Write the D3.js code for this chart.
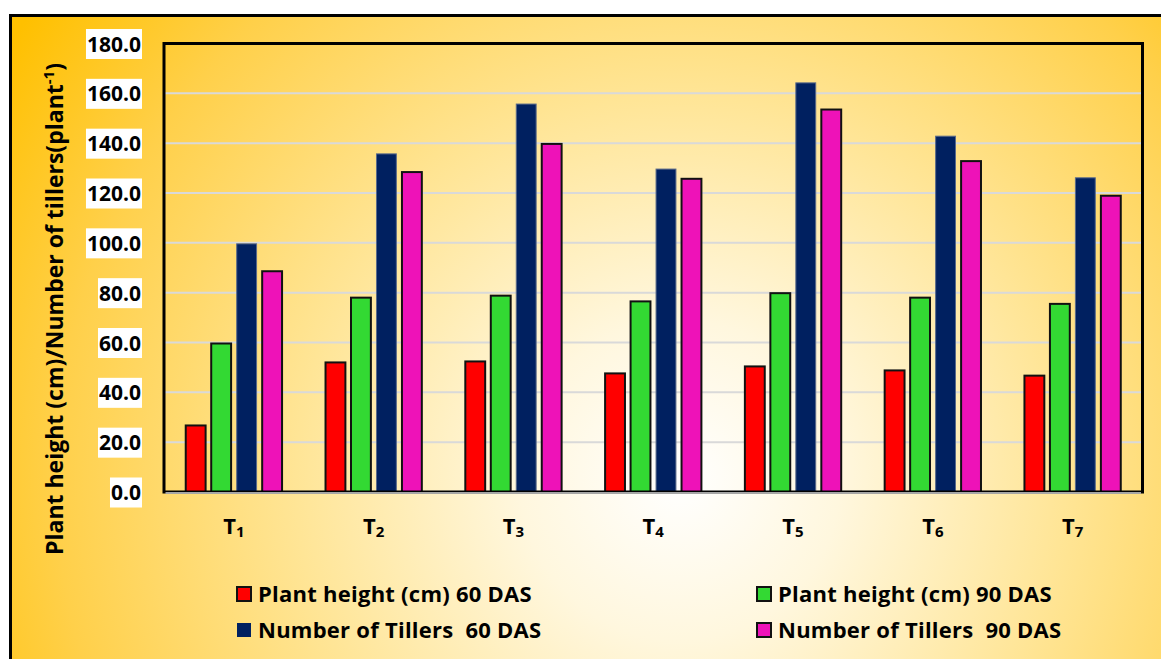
<!DOCTYPE html>
<html>
<head>
<meta charset="utf-8">
<script src="https://cdn.jsdelivr.net/npm/d3@7"></script>
<style>
html,body{margin:0;padding:0;background:#fff;}
svg{display:block;font-family:"Open Sans",Lato,sans-serif;font-weight:bold;}
</style>
</head>
<body>
<svg id="chart" width="1161" height="659"></svg>
<script>
const categories = ["1","2","3","4","5","6","7"]; // T subscripts
const seriesNames = ["Plant height (cm) 60 DAS","Plant height (cm) 90 DAS","Number of Tillers  60 DAS","Number of Tillers  90 DAS"];
const height60 = [26.7, 52.0, 52.4, 47.6, 50.4, 48.8, 46.7];
const height90 = [59.6, 78.0, 78.8, 76.5, 79.8, 78.0, 75.5];
const tillers60 = [99.6, 135.7, 155.7, 129.6, 164.2, 142.8, 126.1];
const tillers90 = [88.6, 128.4, 139.7, 125.7, 153.5, 132.8, 118.9];
const yTicks = [0,20,40,60,80,100,120,140,160,180];
const colors = ["#FF0000","#33D933","#002060","#EE12B8"];
const strokes = ["#111","#111","#5a6a8a","#111"];

const seriesValues = [height60, height90, tillers60, tillers90];

const svg = d3.select("#chart");
const defs = svg.append("defs");
const grad = defs.append("radialGradient").attr("id","bg")
  .attr("gradientUnits","userSpaceOnUse").attr("cx",680).attr("cy",480).attr("r",800);
[[0,"#FFFFFF"],[0.2,"#FFF7DE"],[0.48,"#FFE596"],[0.78,"#FFD04A"],[1,"#FFC000"]]
  .forEach(([o,c])=>grad.append("stop").attr("offset",o).attr("stop-color",c));

// outer frame
svg.append("rect").attr("x",10.5).attr("y",15.5).attr("width",1200).attr("height",700)
  .attr("fill","url(#bg)").attr("stroke","#000").attr("stroke-width",3);

const L=164, R=1142.5, T=43.5, B=492;
const x0 = d3.scaleBand().domain(categories).range([L,R]).paddingInner(0.311).paddingOuter(0.1555);
const x1 = d3.scaleBand().domain(d3.range(4)).range([0,x0.bandwidth()]).paddingInner(0.22).paddingOuter(0);
const y = d3.scaleLinear().domain([0,180]).range([B,T]);

// grid
svg.append("g").selectAll("line").data(yTicks.filter(d=>d>0)).join("line")
  .attr("x1",L).attr("x2",R).attr("y1",d=>y(d)).attr("y2",d=>y(d))
  .attr("stroke","#D9D9D9").attr("stroke-width",2);

// bars
const groups = svg.append("g").selectAll("g").data(categories).join("g")
  .attr("transform",d=>`translate(${x0(d)},0)`);
groups.selectAll("rect").data((d,i)=>seriesValues.map((s,j)=>({j,v:s[i]}))).join("rect")
  .attr("x",d=>x1(d.j)).attr("width",x1.bandwidth())
  .attr("y",d=>y(d.v)).attr("height",d=>B-y(d.v))
  .attr("fill",d=>colors[d.j]).attr("stroke",d=>strokes[d.j])
  .attr("stroke-width",d=>d.j===2?1:2);

// plot border
svg.append("rect").attr("x",L).attr("y",T).attr("width",R-L).attr("height",B-T)
  .attr("fill","none").attr("stroke","#000").attr("stroke-width",3);
// x axis line
svg.append("line").attr("x1",L+1.5).attr("x2",R-1.5).attr("y1",B+1).attr("y2",B+1)
  .attr("stroke","#A6A6A6").attr("stroke-width",2);

// y tick labels with white boxes
const yAxis = d3.axisLeft(y).tickValues(yTicks).tickFormat(d3.format(".1f")).tickSize(0).tickPadding(23);
const ga = svg.append("g").attr("transform",`translate(${L},0)`).call(yAxis);
ga.select(".domain").remove();
ga.selectAll("text").attr("font-size",21).attr("font-family","'Open Sans'").attr("font-weight","bold").attr("fill","#000").attr("dy","0.36em");
ga.selectAll(".tick").each(function(){
  const t = d3.select(this).select("text");
  const bb = t.node().getBBox();
  d3.select(this).insert("rect","text").attr("x",bb.x-1).attr("y",-15).attr("width",bb.width+2).attr("height",30).attr("fill","#fff");
});

// x labels
const xl = svg.append("g").selectAll("text").data(categories).join("text")
  .attr("x",d=>x0(d)+x0.bandwidth()/2).attr("y",534).attr("text-anchor","middle")
  .attr("font-size",22).attr("fill","#000");
xl.append("tspan").text("T");
xl.append("tspan").attr("font-size",15).attr("dy",3).text(d=>d);

// y title
const yt = svg.append("text").attr("transform","translate(63,309) rotate(-90)")
  .attr("text-anchor","middle").attr("font-size",23).attr("fill","#000");
yt.append("tspan").text("Plant height (cm)/Number of tillers(plant");
yt.append("tspan").attr("font-size",15).attr("dy",-9).text("-1");
yt.append("tspan").attr("dy",9).text(")");

// legend
const legPos = [[237,587],[757,587],[237,623],[757,623]];
const leg = svg.append("g").selectAll("g").data(seriesNames).join("g")
  .attr("transform",(d,i)=>`translate(${legPos[i][0]},${legPos[i][1]})`);
leg.append("rect").attr("width",14).attr("height",14)
  .attr("fill",(d,i)=>colors[i]).attr("stroke",(d,i)=>i===2?"none":"#111").attr("stroke-width",2);
leg.append("text").attr("x",21).attr("y",14.5).attr("font-size",22).attr("letter-spacing",0.25).attr("fill","#000")
  .attr("xml:space","preserve").style("white-space","pre").text(d=>d);
</script>
</body>
</html>
